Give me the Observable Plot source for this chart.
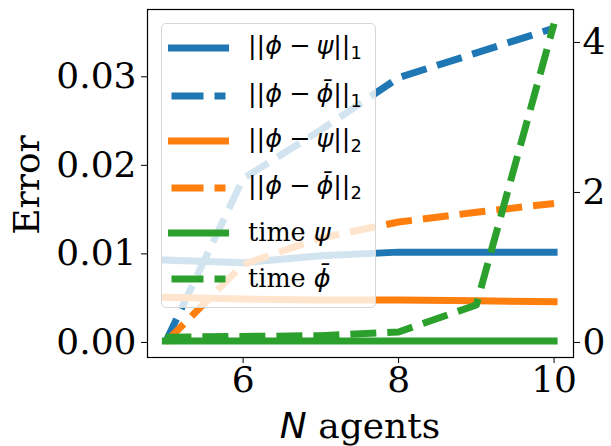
<!DOCTYPE html>
<html><head><meta charset="utf-8">
<script src="https://cdn.jsdelivr.net/npm/d3@7"></script>
<script src="https://cdn.jsdelivr.net/npm/@observablehq/plot@0.6"></script>
<style>
body{margin:0;background:#fff;}
#wrap{position:relative;width:611px;height:446px;font-family:"DejaVu Serif",serif;color:#000;}
#wrap > svg{position:absolute;left:0;top:0;}
.ylab{position:absolute;left:27px;top:185px;transform:translate(-50%,-50%) rotate(-90deg);font-size:36px;white-space:nowrap;line-height:1;}
.xlab{position:absolute;left:360px;top:437px;transform:translate(-50%,-80%);font-size:36px;white-space:nowrap;line-height:1;}
.m{font-family:"DejaVu Sans",sans-serif;font-style:italic;}
.r{font-family:"DejaVu Sans",sans-serif;font-style:normal;}
.op{font-family:"DejaVu Sans",sans-serif;font-style:normal;margin:0 6px 0 7px;}
.legend{position:absolute;left:161px;top:23px;width:213px;height:283px;background:rgba(255,255,255,0.8);border:1px solid #d6d6d6;border-radius:5px;}
.row{position:absolute;left:0;height:46px;width:213px;}
.row svg.sw{position:absolute;left:2px;top:18px;}
.row .t{position:absolute;left:86px;top:50%;transform:translateY(-52%);font-size:25.5px;white-space:nowrap;line-height:1;}
sub{font-size:0.7em;vertical-align:-0.25em;font-family:"DejaVu Sans",sans-serif;font-style:normal;}
</style></head><body><div id="wrap"></div>
<script>
// data
const agents = [5, 6, 7, 8, 9, 10];
const errPsi1 = [0.0093, 0.0090, 0.0098, 0.0102, 0.0102, 0.0102];
const errBar1 = [0.0000, 0.0185, 0.0240, 0.0299, 0.0327, 0.0355];
const errPsi2 = [0.0051, 0.0049, 0.0048, 0.0048, 0.0047, 0.0046];
const errBar2 = [0.0000, 0.0088, 0.0118, 0.0136, 0.0147, 0.0157];
const timePsi = [0.02, 0.02, 0.02, 0.02, 0.02, 0.02];
const timeBar = [0.07, 0.08, 0.09, 0.14, 0.50, 4.25];
const leftTicks = [0, 0.01, 0.02, 0.03];
const rightTicks = [0, 2, 4];
const xTicks = [6, 8, 10];
const seriesNames = ["phiPsi1", "phiBar1", "phiPsi2", "phiBar2", "timePsi", "timeBar"];
const seriesLabels = [
  '<span class="r">||</span><span class="m">ϕ</span><span class="op">−</span><span class="m">ψ</span><span class="r">||</span><sub>1</sub>',
  '<span class="r">||</span><span class="m">ϕ</span><span class="op">−</span><span class="m">ϕ̄</span><span class="r">||</span><sub>1</sub>',
  '<span class="r">||</span><span class="m">ϕ</span><span class="op">−</span><span class="m">ψ</span><span class="r">||</span><sub>2</sub>',
  '<span class="r">||</span><span class="m">ϕ</span><span class="op">−</span><span class="m">ϕ̄</span><span class="r">||</span><sub>2</sub>',
  'time <span class="m">ψ</span>',
  'time <span class="m">ϕ̄</span>'
];
const seriesColors = ["#1f77b4", "#1f77b4", "#ff7f0e", "#ff7f0e", "#2ca02c", "#2ca02c"];
const seriesDashed = [false, true, false, true, false, true];
const seriesOnTimeAxis = [false, false, false, false, true, true];
const seriesValues = [errPsi1, errBar1, errPsi2, errBar2, timePsi, timeBar];

// twin axis: time units -> error units (right "0" aligned with left "0")
const k = 0.00847;
const dash = "26,11";

const marks = [];
seriesNames.forEach((name, s) => {
  const data = agents.map((n, i) => ({n, v: seriesValues[s][i] * (seriesOnTimeAxis[s] ? k : 1)}));
  marks.push(Plot.line(data, {
    x: "n", y: "v", stroke: seriesColors[s], strokeWidth: 7,
    strokeDasharray: seriesDashed[s] ? dash : null,
    strokeLinecap: seriesDashed[s] ? "butt" : "square",
    strokeLinejoin: "round"
  }));
});

const chart = Plot.plot({
  width: 611, height: 446,
  marginLeft: 147, marginRight: 38, marginTop: 9, marginBottom: 89,
  style: {fontFamily: "DejaVu Serif", fontSize: "36px", color: "#000", background: "transparent", overflow: "visible"},
  x: {domain: [4.77, 10.25]},
  y: {domain: [-0.0017, 0.0376]},
  marks: [
    ...marks,
    Plot.frame({stroke: "#000", strokeWidth: 1.2}),
    Plot.axisY({anchor: "left", ticks: leftTicks, tickFormat: d3.format(".2f"), tickSize: 6, tickPadding: 5, fontSize: 36, label: null}),
    Plot.axisY({anchor: "right", ticks: rightTicks.map(t => t * k), tickFormat: d => String(Math.round(d / k)), tickSize: 6, tickPadding: 3, fontSize: 36, label: null}),
    Plot.axisX({ticks: xTicks, tickFormat: d3.format("d"), tickSize: 6, tickPadding: 3, fontSize: 36, label: null})
  ]
});

const wrap = document.getElementById("wrap");
wrap.appendChild(chart);

const yl = document.createElement("div");
yl.className = "ylab"; yl.textContent = "Error";
wrap.appendChild(yl);
const xl = document.createElement("div");
xl.className = "xlab"; xl.innerHTML = '<span class="m">N</span> agents';
wrap.appendChild(xl);

const lg = document.createElement("div");
lg.className = "legend";
const rowCenters = [24, 72, 117, 164, 209, 255];
seriesNames.forEach((name, s) => {
  const row = document.createElement("div");
  row.className = "row";
  row.style.top = (rowCenters[s] - 23) + "px";
  const cap = seriesDashed[s] ? "butt" : "square";
  row.innerHTML = `<svg class="sw" width="70" height="10"><line x1="7.5" x2="61.5" y1="5" y2="5" stroke="${seriesColors[s]}" stroke-width="7" stroke-linecap="${cap}" ${seriesDashed[s] ? 'stroke-dasharray="32,11"' : ''}/></svg><div class="t">${seriesLabels[s]}</div>`;
  lg.appendChild(row);
});
wrap.appendChild(lg);
</script>
</body></html>
